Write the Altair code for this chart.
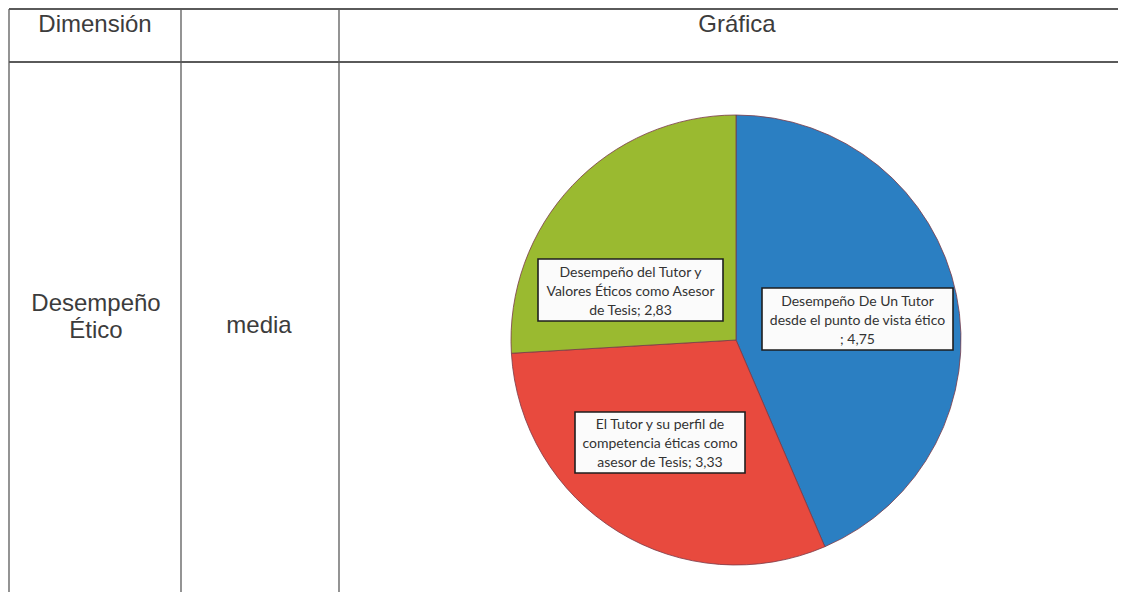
import altair as alt
import pandas as pd

# ---- data ----
categories = [
    "Desempeño De Un Tutor\ndesde el punto de vista ético\n",
    "El Tutor y su perfil de\ncompetencia éticas como\nasesor de Tesis",
    "Desempeño del Tutor y\nValores Éticos como Asesor\nde Tesis",
]
values = [4.75, 3.33, 2.83]
colors = ["#2b7fc2", "#e84a3e", "#9aba30"]

header_texts = ["Dimensión", "Gráfica"]
dimension_lines = ["Desempeño", "Ético"]
stat_text = "media"

labels = [c + "; " + f"{v:.2f}".replace(".", ",") for c, v in zip(categories, values)]
df = pd.DataFrame({"cat": categories, "value": values, "idx": list(range(len(values))), "label": labels})
one = pd.DataFrame({"a": [0]})

OX, OY = 8, 8  # page margin offset
def px(x):
    return x - OX
def py(y):
    return y - OY

W, H = 1110, 584
LINE = "#5a5a5a"
TXT = "#3c3c3c"

layers = []

# table grid
for yv in [9, 62]:
    layers.append(alt.Chart(one).mark_rule(color=LINE, strokeWidth=1.8).encode(
        x=alt.value(px(9)), x2=alt.value(W), y=alt.value(py(yv))))
for xv in [9, 181, 339]:
    layers.append(alt.Chart(one).mark_rule(color=LINE, strokeWidth=1.3).encode(
        x=alt.value(px(xv)), y=alt.value(py(9)), y2=alt.value(H)))

# header texts
layers.append(alt.Chart(one).mark_text(text=header_texts[0], font="Liberation Sans", fontSize=24,
                                       color=TXT, baseline="middle", align="center").encode(
    x=alt.value(px(95)), y=alt.value(py(25))))
layers.append(alt.Chart(one).mark_text(text=header_texts[1], font="Liberation Sans", fontSize=24,
                                       color=TXT, baseline="middle", align="center").encode(
    x=alt.value(px(737)), y=alt.value(py(25))))
layers.append(alt.Chart(one).mark_text(text="\n".join(dimension_lines), lineBreak="\n", lineHeight=27,
                                       font="Liberation Sans", fontSize=24,
                                       color=TXT, baseline="middle", align="center").encode(
    x=alt.value(px(96)), y=alt.value(py(304))))
layers.append(alt.Chart(one).mark_text(text=stat_text, font="Liberation Sans", fontSize=24,
                                       color=TXT, baseline="middle", align="center").encode(
    x=alt.value(px(259)), y=alt.value(py(326))))

# pie
CX, CY, R = 736, 340, 225
pie = alt.Chart(df).mark_arc(outerRadius=R, stroke="#7a3a48", strokeWidth=0.8).encode(
    theta=alt.Theta("value:Q", stack=True),
    color=alt.Color("cat:N", scale=alt.Scale(domain=categories, range=colors), legend=None),
    order=alt.Order("idx:Q", sort="ascending"),
    x=alt.value(px(CX)), y=alt.value(py(CY)),
)
layers.append(pie)

# label boxes: (x1, y1, x2, y2, first line center y)
boxes = [
    (762, 288, 953, 350, 302),
    (575, 412, 745, 473, 425),
    (538, 259, 723, 321, 273),
]
for i, (x1, y1, x2, y2, ty) in enumerate(boxes):
    sub = df.iloc[[i]]
    layers.append(alt.Chart(sub).mark_rect(fill="#fbfbfb", stroke="#1e1e1e", strokeWidth=1.6).encode(
        x=alt.value(px(x1)), x2=alt.value(px(x2)), y=alt.value(py(y1)), y2=alt.value(py(y2))))
    layers.append(alt.Chart(sub).mark_text(lineBreak="\n", lineHeight=19, font="Lato", fontSize=14,
                                           color="#333333", align="center", baseline="middle").encode(
        text="label:N",
        x=alt.value(px((x1 + x2) / 2)), y=alt.value(py(ty))))

chart = alt.layer(*layers).properties(
    width=W, height=H, padding=0, autosize="none", background="white"
).configure_view(stroke=None)

chart.save("out.html", embed_options={"renderer": "svg", "actions": False})
